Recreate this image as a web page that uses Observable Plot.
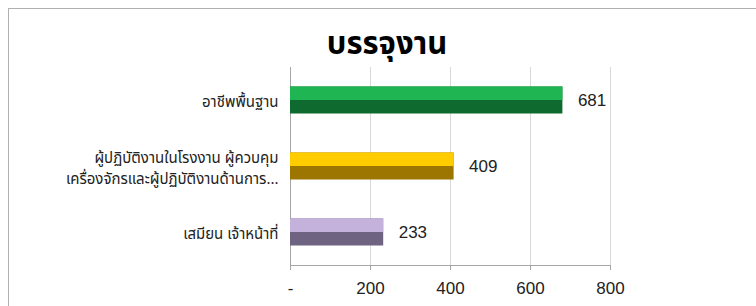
<!DOCTYPE html>
<html>
<head>
<meta charset="utf-8">
<script src="https://cdn.jsdelivr.net/npm/d3@7"></script>
<script src="https://cdn.jsdelivr.net/npm/@observablehq/plot@0.6"></script>
<style>
  html, body { margin: 0; padding: 0; background: #fff; }
  body { width: 756px; height: 306px; overflow: hidden; position: relative; }
  #frame { position: absolute; left: 8px; top: 8px; width: 900px; height: 400px; border: 1px solid #b0b0b0; box-sizing: border-box; }
  #title { position: absolute; left: 387px; top: 25px; transform: translateX(-50%); font-family: "Noto Sans Thai", Tahoma, "DejaVu Sans", sans-serif; font-weight: bold; font-size: 31px; line-height: 40px; white-space: nowrap; color: #000; }
  #chart { position: absolute; left: 0; top: 64px; }
</style>
</head>
<body>
<div id="frame"></div>
<div id="title">บรรจุงาน</div>
<div id="chart"></div>
<script>
const categories = [
  "อาชีพพื้นฐาน",
  "ผู้ปฏิบัติงานในโรงงาน ผู้ควบคุม\nเครื่องจักรและผู้ปฏิบัติงานด้านการ...",
  "เสมียน เจ้าหน้าที่"
];
const values = [681, 409, 233];
const topColors = ["#1fb552", "#ffcc00", "#c4b2dd"];
const bottomColors = ["#0f6a30", "#9c7600", "#6e6482"];
const xTicks = [0, 200, 400, 600, 800];
const xTickLabels = ["-", "200", "400", "600", "800"];

const data = categories.map((c, i) => ({cat: c, value: values[i], top: topColors[i], bottom: bottomColors[i]}));
const labelOf = new Map(xTicks.map((t, i) => [t, xTickLabels[i]]));

const chart = Plot.plot({
  width: 756,
  height: 242,
  marginLeft: 290,
  marginRight: 146,
  marginTop: 3,
  marginBottom: 41,
  style: {background: "transparent", fontFamily: "'Liberation Sans Narrow', 'Liberation Sans', sans-serif"},
  x: {domain: [0, 800]},
  y: {domain: categories, padding: 0},
  marks: [
    Plot.gridX(xTicks.slice(1), {stroke: "#d9d9d9", strokeOpacity: 1}),
    Plot.ruleX([0], {stroke: "#a6a6a6"}),
    Plot.frame({anchor: "bottom", stroke: "#a6a6a6"}),
    Plot.barX(data, {x: "value", y: "cat", fill: "bottom", insetTop: 19.5, insetBottom: 19.5}),
    Plot.barX(data, {x: "value", y: "cat", fill: "top", insetTop: 19.5, insetBottom: 33}),
    Plot.text(data, {x: "value", y: "cat", text: d => String(d.value), textAnchor: "start", dx: 15, fontSize: 17, fill: "#222"}),
    Plot.axisX({ticks: xTicks, tickFormat: d => labelOf.get(d), tickSize: 5, tickPadding: 11, stroke: "#a6a6a6", fontSize: 17, fill: "#222", label: null}),
    Plot.axisY({tickSize: 0, tickPadding: 12, fontSize: 15, lineHeight: 1.45, fill: "#222", label: null, fontFamily: "'Noto Sans Thai', Tahoma, sans-serif"})
  ]
});
document.getElementById("chart").appendChild(chart);
</script>
</body>
</html>
